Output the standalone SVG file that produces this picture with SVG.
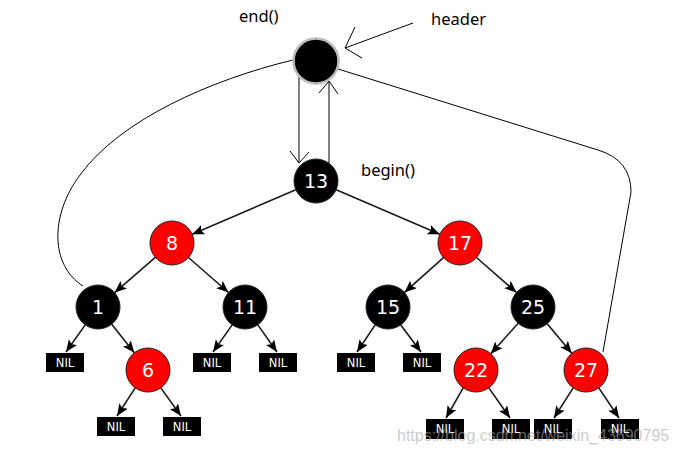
<svg xmlns="http://www.w3.org/2000/svg" width="680" height="454" viewBox="0 0 680 454">
<style>
.lbl{font-family:"Noto Sans","Open Sans",sans-serif;font-size:16.5px;fill:#000}
.thin{fill:none;stroke:#000;stroke-width:1}
.edge{fill:none;stroke:#1a1a1a;stroke-width:1.6;marker-end:url(#ah)}
.blk{fill:#000;stroke:#222;stroke-width:1}
.red{fill:#ff0000;stroke:#222;stroke-width:1}
.num{font-family:"DejaVu Sans",sans-serif;font-size:19px;fill:#fff;text-anchor:middle}
.nilbox{fill:#000}
.nil{font-family:"DejaVu Sans",sans-serif;font-size:11.5px;fill:#fff;text-anchor:middle}
.wm{font-family:"Liberation Sans",Arial,sans-serif;font-size:16px;fill:#aaa;opacity:0.6}
</style>
<defs>
<marker id="ah" markerUnits="userSpaceOnUse" markerWidth="14" markerHeight="12" refX="12" refY="5" orient="auto">
<path d="M0,0 L12,5 L0,10 L2.5,5 z" fill="#000"/>
</marker>
</defs>

<g id="labels">
<text class="lbl" x="239" y="22">end()</text>
<text class="lbl" x="431" y="25">header</text>
<text class="lbl" x="361" y="176">begin()</text>
</g>

<g id="connectors">
<!-- header pointer -->
<path class="thin" d="M413,23 L345,48 M355,27 L345,48 L362,58"/>
<!-- header to begin -->
<path class="thin" d="M299,77 L299,163 M290,151 L299,163 L309,152"/>
<path class="thin" d="M329,163 L329,81 M319,93 L329,81 L338,94"/>
<!-- header to leftmost -->
<path class="thin" d="M293,60 C210,80 120,120 80,175 C50,215 50,265 83,286"/>
<!-- header to rightmost -->
<path class="thin" d="M338,69 L598,150 Q631,160 631,192 L603,352"/>
<!-- tree edges -->
<path class="edge" d="M295.8,189.7 L192.2,234.3"/>
<path class="edge" d="M336.2,189.7 L439.8,234.3"/>
<path class="edge" d="M155.3,257.4 L114.7,292.6"/>
<path class="edge" d="M188.5,257.5 L228.5,292.5"/>
<path class="edge" d="M443.5,257.6 L404.5,292.4"/>
<path class="edge" d="M476.5,257.5 L516.5,292.5"/>
<path class="edge" d="M85.2,324.9 L66,352"/>
<path class="edge" d="M111.7,324.2 L134.3,352.8"/>
<path class="edge" d="M232.2,324.9 L213,352"/>
<path class="edge" d="M257.8,324.9 L277,352"/>
<path class="edge" d="M375.2,324.9 L357,352"/>
<path class="edge" d="M400.8,324.9 L421,352"/>
<path class="edge" d="M518.2,323.3 L490.8,353.7"/>
<path class="edge" d="M547.2,323.8 L571.8,353.2"/>
<path class="edge" d="M135.2,387.9 L117,416"/>
<path class="edge" d="M160.8,387.9 L181,416"/>
<path class="edge" d="M463.2,387.9 L446,418"/>
<path class="edge" d="M488.8,387.9 L510,418"/>
<path class="edge" d="M573.2,387.9 L554,418"/>
<path class="edge" d="M598.8,387.9 L619,418"/>
</g>

<g id="header"><circle cx="316" cy="61" r="22.5" fill="#000" stroke="#bbb" stroke-width="2.5"/></g>

<g id="n13"><circle class="blk" cx="316" cy="181" r="22"/><text class="num" x="316" y="188">13</text></g>
<g id="n8"><circle class="red" cx="172" cy="243" r="22"/><text class="num" x="172" y="250">8</text></g>
<g id="n17"><circle class="red" cx="460" cy="243" r="22"/><text class="num" x="460" y="250">17</text></g>
<g id="n1"><circle class="blk" cx="98" cy="307" r="22"/><text class="num" x="98" y="314">1</text></g>
<g id="n11"><circle class="blk" cx="245" cy="307" r="22"/><text class="num" x="245" y="314">11</text></g>
<g id="n15"><circle class="blk" cx="388" cy="307" r="22"/><text class="num" x="388" y="314">15</text></g>
<g id="n25"><circle class="blk" cx="533" cy="307" r="22"/><text class="num" x="533" y="314">25</text></g>
<g id="n6"><circle class="red" cx="148" cy="370" r="22"/><text class="num" x="148" y="377">6</text></g>
<g id="n22"><circle class="red" cx="476" cy="370" r="22"/><text class="num" x="476" y="377">22</text></g>
<g id="n27"><circle class="red" cx="586" cy="370" r="22"/><text class="num" x="586" y="377">27</text></g>

<g id="nil1"><rect class="nilbox" x="46" y="353" width="38" height="19"/><text class="nil" x="65" y="367">NIL</text></g>
<g id="nil2"><rect class="nilbox" x="193" y="353" width="38" height="19"/><text class="nil" x="212" y="367">NIL</text></g>
<g id="nil3"><rect class="nilbox" x="259" y="353" width="38" height="19"/><text class="nil" x="278" y="367">NIL</text></g>
<g id="nil4"><rect class="nilbox" x="337" y="353" width="38" height="19"/><text class="nil" x="356" y="367">NIL</text></g>
<g id="nil5"><rect class="nilbox" x="403" y="353" width="38" height="19"/><text class="nil" x="422" y="367">NIL</text></g>
<g id="nil6"><rect class="nilbox" x="97" y="417" width="38" height="19"/><text class="nil" x="116" y="431">NIL</text></g>
<g id="nil7"><rect class="nilbox" x="163" y="417" width="38" height="19"/><text class="nil" x="182" y="431">NIL</text></g>
<g id="nil8"><rect class="nilbox" x="426" y="419" width="38" height="20"/><text class="nil" x="445" y="433">NIL</text></g>
<g id="nil9"><rect class="nilbox" x="492" y="419" width="38" height="20"/><text class="nil" x="511" y="433">NIL</text></g>
<g id="nil10"><rect class="nilbox" x="534" y="419" width="38" height="20"/><text class="nil" x="553" y="433">NIL</text></g>
<g id="nil11"><rect class="nilbox" x="601" y="419" width="38" height="20"/><text class="nil" x="620" y="433">NIL</text></g>

<text class="wm" x="397" y="441">https://blog.csdn.net/weixin_43690795</text>
</svg>
